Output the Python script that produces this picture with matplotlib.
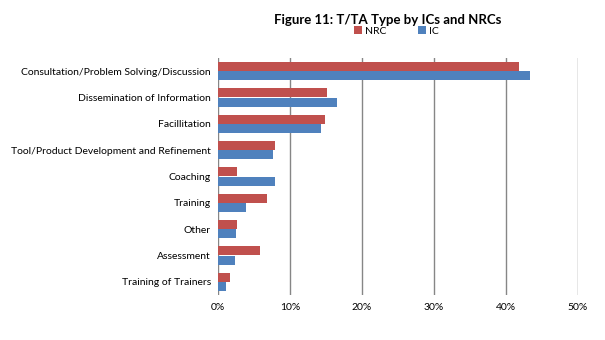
import numpy as np
import matplotlib
matplotlib.use('Agg')
import matplotlib.pyplot as plt
from matplotlib.ticker import PercentFormatter

plt.rcParams['font.family'] = ['Lato', 'DejaVu Sans']

# Categorias (de cima para baixo)
categories = ['Consultation/Problem Solving/Discussion',
              'Dissemination of Information',
              'Facillitation',
              'Tool/Product Development and Refinement',
              'Coaching',
              'Training',
              'Other',
              'Assessment',
              'Training of Trainers']
nrc = [41.8, 15.2, 14.8, 7.9, 2.6, 6.8, 2.7, 5.8, 1.6]
ic = [43.3, 16.5, 14.3, 7.6, 7.9, 3.9, 2.5, 2.3, 1.1]

fig = plt.figure(figsize=(6.05, 3.4), dpi=100)
ax = fig.add_axes([218 / 605, 1 - 295 / 340, 360 / 605, 237 / 340])

y = np.arange(len(categories))
h = 0.34
ax.barh(y - h / 2 - 0.01, nrc, height=h, color='#C0504D', label='NRC', zorder=3)
ax.barh(y + h / 2 + 0.01, ic, height=h, color='#4F81BD', label='IC', zorder=3)

ax.set_xlim(0, 50)
ax.set_ylim(len(categories) - 0.5, -0.5)
ax.set_xticks(np.arange(0, 51, 10))
ax.xaxis.set_major_formatter(PercentFormatter(decimals=0))
ax.set_yticks(y)
ax.set_yticklabels(categories)
ax.tick_params(axis='both', length=0, labelsize=7.5)
ax.tick_params(axis='y', pad=5)
ax.tick_params(axis='x', pad=6)
ax.grid(axis='x', color='#868686', linewidth=1, zorder=0)
for s in ax.spines.values():
    s.set_visible(False)

fig.text(0.641, 0.94, 'Figure 11: T/TA Type by ICs and NRCs', ha='center', va='center',
         fontsize=9.5, fontweight='bold')
fig.legend(loc='center', bbox_to_anchor=(0.655, 0.908), ncol=2, frameon=False,
           fontsize=7.5, handlelength=0.8, handleheight=0.8, columnspacing=3,
           handletextpad=0.3, borderpad=0)

fig.savefig('out.png', dpi=100)
